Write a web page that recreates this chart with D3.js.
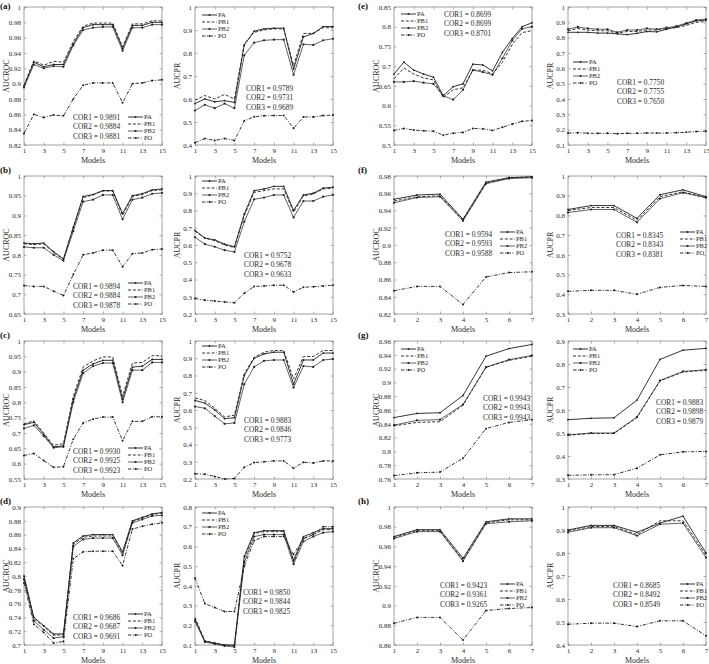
<!DOCTYPE html>
<html>
<head>
<meta charset="utf-8">
<script src="https://cdn.jsdelivr.net/npm/d3@7/dist/d3.min.js"></script>
<style>
  body { margin: 0; background: #fff; }
  text { font-family: "Liberation Serif", "DejaVu Serif", serif; fill: #2a2a2a; }
</style>
</head>
<body>
<div id="container"></div>
<script>
// ---- data ----
var seriesNames = ["PA", "PB1", "PB2", "PO"];
var models15 = [1, 2, 3, 4, 5, 6, 7, 8, 9, 10, 11, 12, 13, 14, 15];
var models7 = [1, 2, 3, 4, 5, 6, 7];
var xTicks15 = [1, 3, 5, 7, 9, 11, 13, 15];
var xTicks7 = [1, 2, 3, 4, 5, 6, 7];

// (a)
var rocA = [
  [0.897, 0.928, 0.922, 0.925, 0.925, 0.952, 0.973, 0.977, 0.977, 0.977, 0.946, 0.976, 0.976, 0.980, 0.980],
  [0.898, 0.930, 0.924, 0.929, 0.928, 0.955, 0.975, 0.979, 0.979, 0.979, 0.948, 0.978, 0.978, 0.982, 0.982],
  [0.895, 0.925, 0.920, 0.923, 0.922, 0.950, 0.970, 0.973, 0.974, 0.974, 0.943, 0.973, 0.973, 0.977, 0.977],
  [0.835, 0.860, 0.856, 0.859, 0.858, 0.880, 0.898, 0.901, 0.901, 0.901, 0.875, 0.900, 0.901, 0.904, 0.905]
];
var prA = [
  [0.580, 0.600, 0.588, 0.593, 0.585, 0.835, 0.895, 0.905, 0.908, 0.908, 0.730, 0.870, 0.885, 0.915, 0.915],
  [0.595, 0.615, 0.600, 0.620, 0.600, 0.840, 0.890, 0.900, 0.905, 0.905, 0.745, 0.885, 0.885, 0.910, 0.910],
  [0.550, 0.575, 0.560, 0.580, 0.560, 0.790, 0.845, 0.855, 0.858, 0.858, 0.705, 0.838, 0.835, 0.855, 0.862],
  [0.410, 0.428, 0.420, 0.428, 0.420, 0.505, 0.523, 0.527, 0.528, 0.528, 0.473, 0.522, 0.522, 0.528, 0.530]
];
var yTicksRocA = [0.82, 0.84, 0.86, 0.88, 0.9, 0.92, 0.94, 0.96, 0.98, 1];
var yTicksPrA = [0.4, 0.5, 0.6, 0.7, 0.8, 0.9, 1];
var corRocA = ["0.9891", "0.9884", "0.9881"];
var corPrA = ["0.9789", "0.9731", "0.9689"];

// (b)
var rocB = [
  [0.830, 0.828, 0.830, 0.808, 0.790, 0.870, 0.948, 0.953, 0.963, 0.963, 0.905, 0.950, 0.955, 0.965, 0.967],
  [0.828, 0.826, 0.828, 0.806, 0.788, 0.868, 0.945, 0.952, 0.962, 0.962, 0.900, 0.948, 0.953, 0.963, 0.965],
  [0.820, 0.818, 0.818, 0.800, 0.785, 0.860, 0.935, 0.940, 0.952, 0.952, 0.890, 0.940, 0.945, 0.955, 0.957],
  [0.722, 0.720, 0.720, 0.708, 0.697, 0.750, 0.800, 0.805, 0.812, 0.812, 0.770, 0.803, 0.805, 0.813, 0.815]
];
var prB = [
  [0.685, 0.640, 0.630, 0.605, 0.590, 0.780, 0.915, 0.925, 0.940, 0.940, 0.800, 0.890, 0.900, 0.930, 0.935],
  [0.680, 0.640, 0.625, 0.600, 0.585, 0.770, 0.905, 0.915, 0.925, 0.925, 0.790, 0.885, 0.895, 0.925, 0.930],
  [0.645, 0.605, 0.590, 0.570, 0.560, 0.735, 0.865, 0.875, 0.890, 0.890, 0.760, 0.855, 0.855, 0.880, 0.890],
  [0.290, 0.280, 0.275, 0.270, 0.265, 0.320, 0.360, 0.362, 0.367, 0.367, 0.328, 0.355, 0.358, 0.363, 0.367]
];
var yTicksRocB = [0.65, 0.7, 0.75, 0.8, 0.85, 0.9, 0.95, 1];
var yTicksPrB = [0.2, 0.3, 0.4, 0.5, 0.6, 0.7, 0.8, 0.9, 1];
var corRocB = ["0.9894", "0.9884", "0.9878"];
var corPrB = ["0.9752", "0.9678", "0.9633"];

// (c)
var rocC = [
  [0.727, 0.735, 0.695, 0.655, 0.658, 0.810, 0.905, 0.925, 0.937, 0.937, 0.810, 0.915, 0.918, 0.940, 0.940],
  [0.730, 0.740, 0.700, 0.660, 0.665, 0.820, 0.915, 0.935, 0.948, 0.948, 0.820, 0.928, 0.930, 0.952, 0.952],
  [0.715, 0.725, 0.690, 0.652, 0.655, 0.800, 0.895, 0.918, 0.928, 0.928, 0.800, 0.905, 0.905, 0.930, 0.930],
  [0.627, 0.633, 0.610, 0.588, 0.590, 0.680, 0.733, 0.745, 0.752, 0.752, 0.675, 0.738, 0.738, 0.753, 0.753]
];
var prC = [
  [0.655, 0.640, 0.600, 0.550, 0.555, 0.800, 0.900, 0.925, 0.935, 0.935, 0.750, 0.890, 0.890, 0.930, 0.930],
  [0.670, 0.655, 0.610, 0.560, 0.570, 0.810, 0.905, 0.935, 0.945, 0.945, 0.780, 0.910, 0.910, 0.945, 0.945],
  [0.620, 0.610, 0.565, 0.520, 0.525, 0.750, 0.850, 0.885, 0.890, 0.890, 0.730, 0.855, 0.850, 0.890, 0.895],
  [0.230, 0.228, 0.215, 0.200, 0.203, 0.268, 0.295, 0.300, 0.305, 0.305, 0.263, 0.297, 0.293, 0.305, 0.305]
];
var yTicksRocC = [0.55, 0.6, 0.65, 0.7, 0.75, 0.8, 0.85, 0.9, 0.95, 1];
var yTicksPrC = [0.2, 0.3, 0.4, 0.5, 0.6, 0.7, 0.8, 0.9, 1];
var corRocC = ["0.9930", "0.9925", "0.9923"];
var corPrC = ["0.9883", "0.9846", "0.9773"];

// (d)
var rocD = [
  [0.800, 0.740, 0.728, 0.716, 0.716, 0.848, 0.858, 0.860, 0.860, 0.860, 0.835, 0.880, 0.885, 0.890, 0.892],
  [0.798, 0.738, 0.727, 0.714, 0.715, 0.846, 0.856, 0.858, 0.858, 0.858, 0.833, 0.879, 0.884, 0.889, 0.891],
  [0.795, 0.735, 0.722, 0.710, 0.712, 0.843, 0.853, 0.855, 0.855, 0.855, 0.830, 0.877, 0.882, 0.887, 0.888],
  [0.790, 0.730, 0.718, 0.703, 0.705, 0.825, 0.835, 0.836, 0.836, 0.836, 0.815, 0.868, 0.872, 0.875, 0.877]
];
var prD = [
  [0.230, 0.120, 0.110, 0.100, 0.100, 0.550, 0.670, 0.680, 0.680, 0.680, 0.530, 0.650, 0.670, 0.690, 0.690],
  [0.240, 0.120, 0.110, 0.100, 0.095, 0.540, 0.665, 0.675, 0.675, 0.675, 0.520, 0.640, 0.660, 0.685, 0.685],
  [0.220, 0.115, 0.105, 0.095, 0.090, 0.520, 0.650, 0.660, 0.660, 0.660, 0.510, 0.625, 0.650, 0.670, 0.675],
  [0.440, 0.310, 0.290, 0.270, 0.270, 0.500, 0.630, 0.650, 0.650, 0.650, 0.560, 0.640, 0.660, 0.700, 0.700]
];
var yTicksRocD = [0.7, 0.72, 0.74, 0.76, 0.78, 0.8, 0.82, 0.84, 0.86, 0.88, 0.9];
var yTicksPrD = [0.1, 0.2, 0.3, 0.4, 0.5, 0.6, 0.7, 0.8];
var corRocD = ["0.9686", "0.9687", "0.9691"];
var corPrD = ["0.9850", "0.9844", "0.9825"];

// (e)
var rocE = [
  [0.680, 0.710, 0.690, 0.680, 0.672, 0.625, 0.648, 0.655, 0.705, 0.703, 0.688, 0.735, 0.770, 0.800, 0.810],
  [0.668, 0.695, 0.680, 0.670, 0.665, 0.620, 0.640, 0.645, 0.690, 0.690, 0.680, 0.710, 0.755, 0.785, 0.790],
  [0.660, 0.660, 0.662, 0.658, 0.655, 0.625, 0.615, 0.640, 0.690, 0.685, 0.678, 0.720, 0.765, 0.795, 0.800],
  [0.537, 0.542, 0.538, 0.536, 0.535, 0.525, 0.530, 0.532, 0.542, 0.541, 0.537, 0.545, 0.553, 0.560, 0.562]
];
var prE = [
  [0.835, 0.835, 0.835, 0.830, 0.830, 0.825, 0.820, 0.828, 0.840, 0.838, 0.855, 0.870, 0.890, 0.910, 0.915],
  [0.845, 0.860, 0.850, 0.845, 0.845, 0.830, 0.840, 0.840, 0.850, 0.850, 0.860, 0.865, 0.880, 0.900, 0.905],
  [0.855, 0.870, 0.860, 0.855, 0.855, 0.835, 0.850, 0.850, 0.860, 0.855, 0.865, 0.875, 0.895, 0.915, 0.920],
  [0.178, 0.180, 0.177, 0.176, 0.176, 0.174, 0.176, 0.176, 0.178, 0.178, 0.178, 0.180, 0.183, 0.188, 0.190]
];
var yTicksRocE = [0.5, 0.55, 0.6, 0.65, 0.7, 0.75, 0.8, 0.85];
var yTicksPrE = [0.1, 0.2, 0.3, 0.4, 0.5, 0.6, 0.7, 0.8, 0.9, 1];
var corRocE = ["0.8699", "0.8699", "0.8701"];
var corPrE = ["0.7750", "0.7755", "0.7650"];

// (f)
var rocF = [
  [0.953, 0.958, 0.959, 0.930, 0.973, 0.978, 0.979],
  [0.951, 0.956, 0.957, 0.929, 0.972, 0.978, 0.979],
  [0.949, 0.955, 0.956, 0.928, 0.971, 0.977, 0.978],
  [0.847, 0.852, 0.852, 0.831, 0.863, 0.868, 0.869]
];
var prF = [
  [0.830, 0.850, 0.850, 0.785, 0.905, 0.930, 0.895],
  [0.825, 0.840, 0.840, 0.775, 0.895, 0.920, 0.890],
  [0.815, 0.830, 0.830, 0.765, 0.885, 0.915, 0.890],
  [0.415, 0.420, 0.420, 0.400, 0.435, 0.445, 0.440]
];
var yTicksRocF = [0.82, 0.84, 0.86, 0.88, 0.9, 0.92, 0.94, 0.96, 0.98];
var yTicksPrF = [0.3, 0.4, 0.5, 0.6, 0.7, 0.8, 0.9, 1];
var corRocF = ["0.9594", "0.9593", "0.9588"];
var corPrF = ["0.8345", "0.8343", "0.8381"];

// (g)
var rocG = [
  [0.849, 0.855, 0.856, 0.881, 0.938, 0.949, 0.955],
  [0.837, 0.842, 0.843, 0.867, 0.922, 0.932, 0.938],
  [0.838, 0.845, 0.846, 0.868, 0.922, 0.933, 0.939],
  [0.765, 0.769, 0.770, 0.790, 0.833, 0.842, 0.846]
];
var prG = [
  [0.558, 0.564, 0.566, 0.643, 0.820, 0.860, 0.868],
  [0.490, 0.498, 0.498, 0.567, 0.727, 0.765, 0.773],
  [0.492, 0.500, 0.500, 0.570, 0.728, 0.768, 0.775],
  [0.316, 0.318, 0.319, 0.347, 0.405, 0.418, 0.420]
];
var yTicksRocG = [0.76, 0.78, 0.8, 0.82, 0.84, 0.86, 0.88, 0.9, 0.92, 0.94, 0.96];
var yTicksPrG = [0.3, 0.4, 0.5, 0.6, 0.7, 0.8, 0.9];
var corRocG = ["0.9943", "0.9943", "0.9943"];
var corPrG = ["0.9883", "0.9898", "0.9879"];

// (h)
var rocH = [
  [0.970, 0.977, 0.977, 0.948, 0.985, 0.988, 0.988],
  [0.969, 0.976, 0.976, 0.946, 0.984, 0.987, 0.987],
  [0.968, 0.975, 0.975, 0.945, 0.983, 0.985, 0.986],
  [0.882, 0.888, 0.888, 0.865, 0.895, 0.897, 0.898]
];
var prH = [
  [0.900, 0.920, 0.920, 0.890, 0.930, 0.960, 0.800],
  [0.895, 0.915, 0.915, 0.880, 0.940, 0.940, 0.790],
  [0.890, 0.910, 0.910, 0.875, 0.925, 0.930, 0.780],
  [0.490, 0.495, 0.495, 0.480, 0.505, 0.505, 0.440]
];
var yTicksRocH = [0.86, 0.88, 0.9, 0.92, 0.94, 0.96, 0.98, 1];
var yTicksPrH = [0.4, 0.5, 0.6, 0.7, 0.8, 0.9, 1];
var corRocH = ["0.9423", "0.9361", "0.9265"];
var corPrH = ["0.8685", "0.8492", "0.8549"];

// ---- layout ----
var colX = [24, 195, 394, 568];
var rowY = [7, 176, 341, 507];
var W = 138, H = 138;

// one entry per panel: which data, where, legend / COR placement (relative to plot box)
var panels = [
  { tag: "(a)", col: 0, row: 0, ylab: "AUCROC", models: models15, xt: xTicks15, yt: yTicksRocA, data: rocA, cor: corRocA, leg: [104, 110], cp: [49, 110] },
  { col: 1, row: 0, ylab: "AUCPR", models: models15, xt: xTicks15, yt: yTicksPrA, data: prA, cor: corPrA, leg: [7, 8], cp: [51, 81] },
  { tag: "(b)", col: 0, row: 1, ylab: "AUCROC", models: models15, xt: xTicks15, yt: yTicksRocB, data: rocB, cor: corRocB, leg: [104, 107], cp: [49, 110] },
  { col: 1, row: 1, ylab: "AUCPR", models: models15, xt: xTicks15, yt: yTicksPrB, data: prB, cor: corPrB, leg: [7, 5], cp: [49, 79] },
  { tag: "(c)", col: 0, row: 2, ylab: "AUCROC", models: models15, xt: xTicks15, yt: yTicksRocC, data: rocC, cor: corRocC, leg: [104, 107], cp: [49, 110] },
  { col: 1, row: 2, ylab: "AUCPR", models: models15, xt: xTicks15, yt: yTicksPrC, data: prC, cor: corPrC, leg: [7, 5], cp: [49, 79] },
  { tag: "(d)", col: 0, row: 3, ylab: "AUCROC", models: models15, xt: xTicks15, yt: yTicksRocD, data: rocD, cor: corRocD, leg: [104, 107], cp: [49, 110] },
  { col: 1, row: 3, ylab: "AUCPR", models: models15, xt: xTicks15, yt: yTicksPrD, data: prD, cor: corPrD, leg: [7, 6], cp: [48, 85] },
  { tag: "(e)", col: 2, row: 0, ylab: "AUCROC", models: models15, xt: xTicks15, yt: yTicksRocE, data: rocE, cor: corRocE, leg: [7, 7], cp: [50, 7] },
  { col: 3, row: 0, ylab: "AUCPR", models: models15, xt: xTicks15, yt: yTicksPrE, data: prE, cor: corPrE, leg: [5, 55], cp: [49, 75] },
  { tag: "(f)", col: 2, row: 1, ylab: "AUCROC", models: models7, xt: xTicks7, yt: yTicksRocF, data: rocF, cor: corRocF, leg: [106, 56], cp: [51, 58] },
  { col: 3, row: 1, ylab: "AUCPR", models: models7, xt: xTicks7, yt: yTicksPrF, data: prF, cor: corPrF, leg: [112, 56], cp: [48, 59] },
  { tag: "(g)", col: 2, row: 2, ylab: "AUCROC", models: models7, xt: xTicks7, yt: yTicksRocG, data: rocG, cor: corRocG, leg: [7, 8], cp: [89, 57] },
  { col: 3, row: 2, ylab: "AUCPR", models: models7, xt: xTicks7, yt: yTicksPrG, data: prG, cor: corPrG, leg: [5, 8], cp: [88, 61] },
  { tag: "(h)", col: 2, row: 3, ylab: "AUCROC", models: models7, xt: xTicks7, yt: yTicksRocH, data: rocH, cor: corRocH, leg: [106, 77], cp: [46, 78] },
  { col: 3, row: 3, ylab: "AUCPR", models: models7, xt: xTicks7, yt: yTicksPrH, data: prH, cor: corPrH, leg: [112, 77], cp: [45, 78] }
];

// line look per series: PA solid+dots, PB1 dashed, PB2 solid+dots, PO dash-dot+dots
var styles = [
  { dash: null, mark: 0.9, w: 0.9 },
  { dash: "3,1.8", mark: 0, w: 0.9 },
  { dash: null, mark: 1.1, w: 0.7 },
  { dash: "3.5,1.5,1,1.5", mark: 1.0, w: 0.9 }
];
var ink = "#1e1e1e";

var svg = d3.select("#container").append("svg")
  .attr("width", 709)
  .attr("height", 664)
  .style("display", "block");

var fmt = function (d) { return String(+d.toFixed(2)); };

function drawPanel(p) {
  var g = svg.append("g")
    .attr("transform", "translate(" + colX[p.col] + "," + rowY[p.row] + ")");

  var x = d3.scaleLinear()
    .domain([p.models[0], p.models[p.models.length - 1]])
    .range([0, W]);
  var y = d3.scaleLinear()
    .domain([p.yt[0], p.yt[p.yt.length - 1]])
    .range([H, 0]);

  // box
  g.append("rect")
    .attr("width", W).attr("height", H)
    .attr("fill", "none").attr("stroke", "#8a8a8a").attr("stroke-width", 0.8);

  // ticks (inward, all four sides, MATLAB style)
  var ax = [
    g.append("g").attr("transform", "translate(0," + H + ")")
      .call(d3.axisBottom(x).tickValues(p.xt).tickSize(-2.5).tickPadding(3).tickFormat(function (d) { return d; })),
    g.append("g")
      .call(d3.axisTop(x).tickValues(p.xt).tickSize(-2.5).tickFormat("")),
    g.append("g")
      .call(d3.axisLeft(y).tickValues(p.yt).tickSize(-2.5).tickPadding(3).tickFormat(fmt)),
    g.append("g").attr("transform", "translate(" + W + ",0)")
      .call(d3.axisRight(y).tickValues(p.yt).tickSize(-2.5).tickFormat(""))
  ];
  ax.forEach(function (a) {
    a.select(".domain").remove();
    a.selectAll("line").attr("stroke", "#8a8a8a").attr("stroke-width", 0.7);
    a.selectAll("text")
      .attr("font-family", "Liberation Serif, serif")
      .attr("font-size", 7)
      .attr("fill", "#333");
  });

  // axis labels
  g.append("text")
    .attr("x", W / 2).attr("y", H + 18)
    .attr("text-anchor", "middle")
    .attr("font-size", 8)
    .text("Models");
  g.append("text")
    .attr("transform", "translate(-15," + (H / 2) + ") rotate(-90)")
    .attr("text-anchor", "middle")
    .attr("font-size", 8)
    .text(p.ylab);

  // series
  var line = d3.line()
    .x(function (d, i) { return x(p.models[i]); })
    .y(function (d) { return y(d); });

  p.data.forEach(function (vals, si) {
    var st = styles[si];
    g.append("path")
      .datum(vals)
      .attr("d", line)
      .attr("fill", "none")
      .attr("stroke", ink)
      .attr("stroke-width", st.w)
      .attr("stroke-dasharray", st.dash);
    if (st.mark) {
      g.selectAll(".m" + si)
        .data(vals)
        .enter().append("circle")
        .attr("class", "m" + si)
        .attr("cx", function (d, i) { return x(p.models[i]); })
        .attr("cy", function (d) { return y(d); })
        .attr("r", st.mark)
        .attr("fill", ink);
    }
  });

  // legend
  var lg = g.append("g").attr("transform", "translate(" + p.leg[0] + "," + p.leg[1] + ")");
  seriesNames.forEach(function (name, si) {
    var st = styles[si];
    var yy = si * 7;
    lg.append("line")
      .attr("x1", 0).attr("x2", 15).attr("y1", yy).attr("y2", yy)
      .attr("stroke", ink).attr("stroke-width", st.w)
      .attr("stroke-dasharray", st.dash);
    if (st.mark) {
      lg.append("circle").attr("cx", 7.5).attr("cy", yy).attr("r", st.mark).attr("fill", ink);
    }
    lg.append("text")
      .attr("x", 16).attr("y", yy)
      .attr("dy", "0.35em")
      .attr("font-size", 6.5)
      .text(name);
  });

  // correlation notes
  p.cor.forEach(function (c, i) {
    g.append("text")
      .attr("x", p.cp[0]).attr("y", p.cp[1] + i * 9.5)
      .attr("dy", "0.35em")
      .attr("font-size", 7.4)
      .text("COR" + (i + 1) + " = " + c);
  });

  // panel letter
  if (p.tag) {
    svg.append("text")
      .attr("x", p.col === 0 ? 0 : 358)
      .attr("y", p.row === 0 ? 9 : rowY[p.row] - 3.5)
      .attr("font-family", "Liberation Sans, Arial, sans-serif")
      .attr("font-weight", "bold")
      .attr("font-size", 9)
      .style("fill", "#111")
      .text(p.tag);
  }
}

panels.forEach(drawPanel);
</script>
</body>
</html>
